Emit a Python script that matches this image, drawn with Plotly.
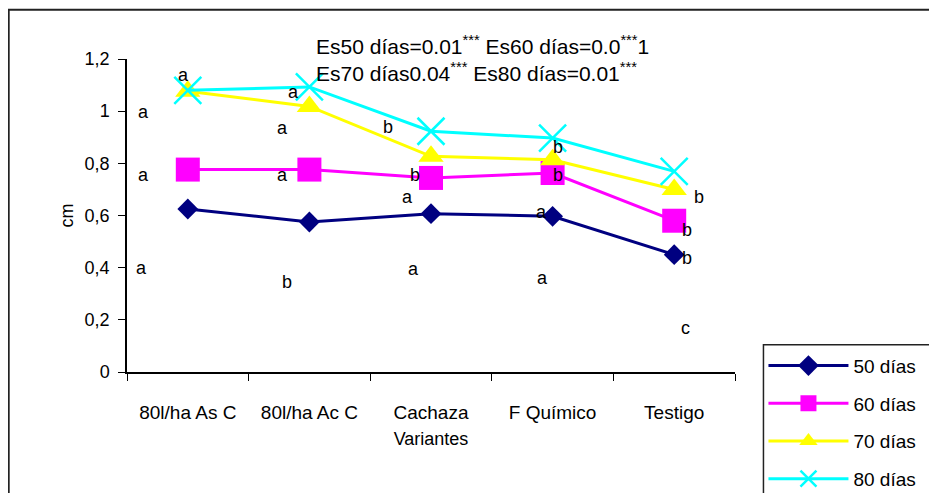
import plotly.graph_objects as go

# ---------------- data ----------------
categories = ["80l/ha As C", "80l/ha Ac C", "Cachaza", "F Químico", "Testigo"]
series_names = ["50 días", "60 días", "70 días", "80 días"]
v50 = [0.625, 0.575, 0.607, 0.597, 0.45]
v60 = [0.776, 0.776, 0.744, 0.763, 0.58]
v70 = [1.076, 1.018, 0.827, 0.814, 0.70]
v80 = [1.08, 1.093, 0.923, 0.897, 0.769]
y_ticks = [0, 0.2, 0.4, 0.6, 0.8, 1.0, 1.2]

# significance letters: (letter, category position, value position)
sig_letters = ["a", "a", "a", "a", "a", "a", "b", "a", "b", "a", "a", "b",
               "a", "b", "b", "a", "b", "b", "b", "c"]
sig_x = [-0.365, -0.365, -0.38, -0.036, 0.867, 0.777, 1.647, 0.777, 1.869, 1.803, 1.852, 0.818,
         2.911, 3.043, 3.043, 2.919, 4.208, 4.102, 4.102, 4.094]
sig_y = [0.995, 0.757, 0.40, 1.14, 1.075, 0.937, 0.94, 0.757, 0.757, 0.672, 0.396, 0.346,
         0.615, 0.864, 0.757, 0.362, 0.672, 0.546, 0.438, 0.17]

stats_line1 = "Es50 días=0.01<sup>***</sup> Es60 días=0.0<sup>***</sup>1"
stats_line2 = "Es70 días0.04<sup>***</sup> Es80 días=0.01<sup>***</sup>"

# ---------------- layout geometry (pixels, in page coordinates) ----------------
OFF = 8  # default page body margin
VW, VH = 937, 493
W, H = VW - OFF, VH - OFF
L, R, T, B = 126.5 - OFF, 735.5 - OFF, 59.3 - OFF, 372.3 - OFF
FONT = "Liberation Sans, Arial, sans-serif"


def px(xp):
    return (xp - OFF - L) / (R - L)


def py(yp):
    return (B - (yp - OFF)) / (B - T)


styles = [
    dict(color="#000080", symbol="diamond", size=16, lw=3),
    dict(color="#FF00FF", symbol="square", size=24, lw=3),
    dict(color="#FFFF00", symbol="triangle-up", size=22, lw=3),
    dict(color="#00FFFF", symbol="x-thin-open", size=27, lw=3),
]

fig = go.Figure()
for name, vals, st in zip(series_names, [v50, v60, v70, v80], styles):
    marker = dict(symbol=st["symbol"], size=st["size"], color=st["color"])
    if st["symbol"].endswith("open"):
        marker["line"] = dict(color=st["color"], width=2.5)
    fig.add_trace(go.Scatter(
        x=categories, y=vals, name=name, mode="lines+markers",
        line=dict(color=st["color"], width=st["lw"]),
        marker=marker, legendgroup=name,
    ))

annotations = []
for t, xx, yy in zip(sig_letters, sig_x, sig_y):
    annotations.append(dict(x=xx, y=yy, xref="x", yref="y", text=t, showarrow=False,
                            font=dict(family=FONT, size=18, color="black")))
annotations.append(dict(x=px(314), y=py(45), xref="paper", yref="paper", text=stats_line1,
                        showarrow=False, xanchor="left", yanchor="middle",
                        font=dict(family=FONT, size=21, color="black")))
annotations.append(dict(x=px(314), y=py(72), xref="paper", yref="paper", text=stats_line2,
                        showarrow=False, xanchor="left", yanchor="middle",
                        font=dict(family=FONT, size=21, color="black")))

shapes = [
    # outer frame (extends past right / bottom edges)
    dict(type="rect", xref="paper", yref="paper", x0=px(8), y0=py(10), x1=px(VW + 30), y1=py(VH + 30),
         line=dict(color="#222222", width=2)),
    # legend box (extends past the edges)
    dict(type="rect", xref="paper", yref="paper", x0=px(764), y0=py(345), x1=px(VW + 30), y1=py(VH + 30),
         line=dict(color="#222222", width=1.5)),
]

fig.update_layout(
    width=W, height=H,
    margin=dict(l=L, r=W - R, t=T, b=H - B, pad=0, autoexpand=False),
    paper_bgcolor="white", plot_bgcolor="white",
    separators=", ",
    font=dict(family=FONT, size=18, color="black"),
    showlegend=True,
    legend=dict(x=px(764), y=py(347), xanchor="left", yanchor="top",
                bgcolor="rgba(0,0,0,0)", borderwidth=0,
                font=dict(family=FONT, size=19, color="black"),
                itemwidth=80, tracegroupgap=10, traceorder="grouped"),
    annotations=annotations,
    shapes=shapes,
    xaxis=dict(type="category", range=[-0.5, 4.5], showline=True, linecolor="black", linewidth=1.5,
               ticks="outside", ticklen=7, tickcolor="black", tickson="boundaries",
               showgrid=False, zeroline=False, ticklabelstandoff=22, automargin=False,
               tickfont=dict(size=19),
               title=dict(text="Variantes", standoff=11, font=dict(size=18))),
    yaxis=dict(range=[0, 1.2], tickvals=y_ticks, showline=True, linecolor="black", linewidth=1.5,
               ticks="outside", ticklen=7, tickcolor="black", showgrid=False, zeroline=False,
               ticklabelstandoff=5, automargin=False,
               title=dict(text="cm", standoff=6, font=dict(size=18))),
)

fig.write_html("out.html")
